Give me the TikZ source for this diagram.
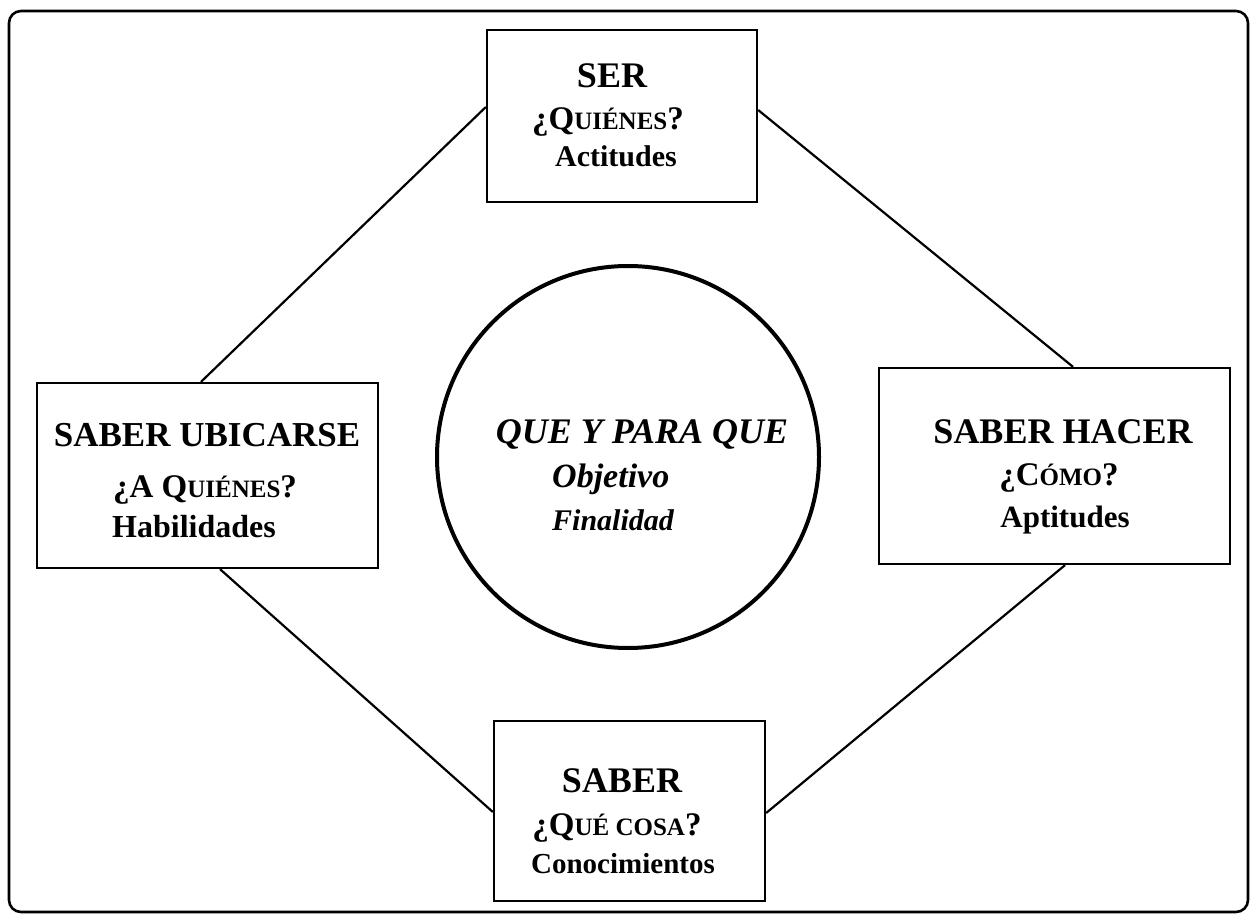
\documentclass[tikz,border=0pt]{standalone}
\usepackage{fontspec}
\setmainfont{Liberation Serif}
\newcommand\fsz[1]{\fontsize{#1}{#1}\selectfont}
\newcommand\smc[1]{{\fsz{25}#1}}
\begin{document}
\begin{tikzpicture}[x=1pt,y=-1pt]
\tikzset{
  boxnode/.style={draw, rectangle, line width=2.3pt, inner sep=0pt},
  ringnode/.style={draw, circle, line width=4pt, inner sep=0pt},
  conn/.style={line width=2.2pt},
  frame/.style={line width=2.6pt, rounded corners=12pt},
  lbl/.style={inner sep=0pt, anchor=base},
  head/.style={lbl, font=\fsz{36}\bfseries},
  ques/.style={lbl, font=\fsz{33}\bfseries},
  sub/.style={lbl, font=\fsz{30}\bfseries},
}
\useasboundingbox (0,0) rectangle (1258,917);
\draw[frame] (9,11) rectangle (1248,912);

% boxes
\node[boxnode, minimum width=270pt, minimum height=172pt] (T) at (622,116) {};
\node[boxnode, minimum width=341pt, minimum height=185pt] (L) at (207.5,475.5) {};
\node[boxnode, minimum width=351pt, minimum height=196pt] (R) at (1054.5,466) {};
\node[boxnode, minimum width=271pt, minimum height=180pt] (B) at (629.5,811) {};
\node[ringnode, minimum size=382pt] (C) at (628,457) {};

% connectors
\draw[conn] ([xshift=-6.5pt]L.north) -- ([yshift=9pt]T.west);
\draw[conn] ([yshift=6pt]T.east) -- ([xshift=18.5pt]R.north);
\draw[conn] ([xshift=10.5pt]R.south) -- ([yshift=-2pt]B.east);
\draw[conn] ([xshift=12.5pt]L.south) -- ([yshift=-1pt]B.west);

% top box texts
\node[head] (t1) at (612,88) {SER};
\node[ques] (t2) at (608,130) {¿Q\smc{UIÉNES}?};
\node[sub] (t3) at (616,167) {Actitudes};

% left box texts
\node[head, font=\fsz{35}\bfseries] (l1) at (207,446) {SABER UBICARSE};
\node[ques] (l2) at (205,497) {¿A Q\smc{UIÉNES}?};
\node[sub, font=\fsz{32}\bfseries] (l3) at (194,537) {Habilidades};

% right box texts
\node[head] (r1) at (1063,443) {SABER HACER};
\node[ques] (r2) at (1059,485) {¿C\smc{ÓMO}?};
\node[sub, font=\fsz{31}\bfseries] (r3) at (1065,527) {Aptitudes};

% bottom box texts
\node[head] (b1) at (622,792) {SABER};
\node[ques] (b2) at (617,835) {¿Q\smc{UÉ COSA}?};
\node[sub, font=\fsz{29}\bfseries] (b3) at (623,873) {Conocimientos};

% circle texts
\node[lbl, font=\fsz{36}\bfseries\itshape] (c1) at (642,443) {QUE Y PARA QUE};
\node[lbl, anchor=base west, font=\fsz{34}\bfseries\itshape] (c2) at (552,487) {Objetivo};
\node[lbl, anchor=base west, font=\fsz{30}\bfseries\itshape] (c3) at (552,530) {Finalidad};
\end{tikzpicture}
\end{document}
